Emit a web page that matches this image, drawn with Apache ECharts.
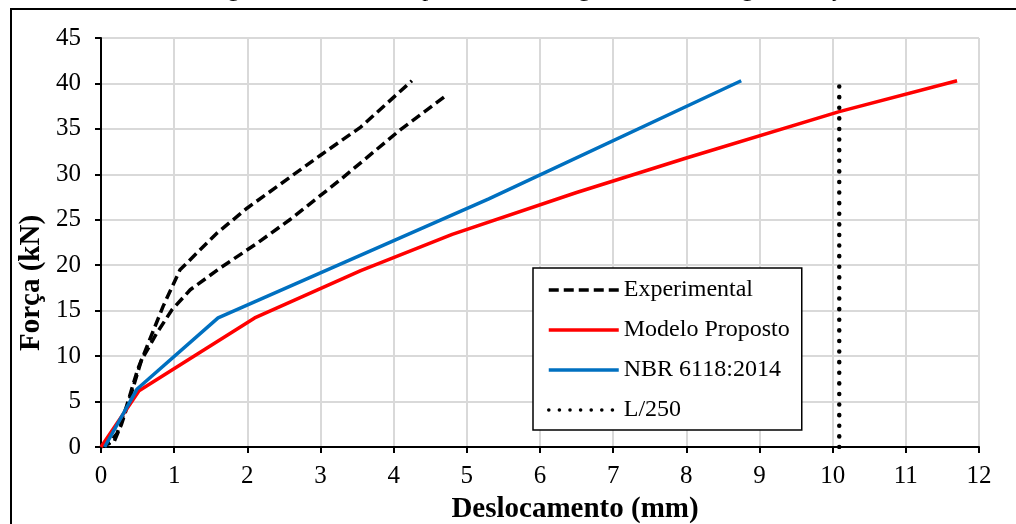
<!DOCTYPE html>
<html>
<head>
<meta charset="utf-8">
<script src="https://cdn.jsdelivr.net/npm/echarts@6/dist/echarts.min.js"></script>
<style>
  html, body { margin: 0; padding: 0; background: #fff; }
  #chart { width: 1016px; height: 524px; }
</style>
</head>
<body>
<div id="chart"></div>
<script>
// curvas força x deslocamento (mm, kN)
var experimental1 = [[0,0],[0.12,0.5],[0.22,1.5],[0.35,4.5],[0.5,8.5],[0.65,11.5],[0.85,15.5],[1.08,19.5],[1.58,23.5],[2.0,26.3],[3.0,32.1],[3.55,35.2],[4.25,40.3]];
var experimental2 = [[0,0],[0.18,0.6],[0.28,2.5],[0.4,5.5],[0.55,9.5],[0.76,12.5],[0.97,15.1],[1.22,17.3],[1.63,19.7],[2.13,22.4],[2.58,25.0],[3.27,29.4],[4.09,34.9],[4.72,38.7]];
var modeloProposto = [[0,0],[0.52,6.2],[2.1,14.2],[3.55,19.4],[4.8,23.4],[6.5,28.0],[8.0,31.8],[10.09,36.9],[11.7,40.3]];
var nbr6118 = [[0.05,0],[0.49,6.35],[1.6,14.2],[5.3,27.3],[8.75,40.3]];
var limiteL250 = [[10.09,0],[10.09,40]];

var nomes = ['Experimental', 'Modelo Proposto', 'NBR 6118:2014', 'L/250'];
var titulo = 'Viga V1, Resultado experimental da viga com a modelagem: Força x Deslocamento';

var fonte = 'Liberation Serif, Times New Roman, serif';
var chart = echarts.init(document.getElementById('chart'));

var option = {
	animation: false,
	backgroundColor: '#fff',
	grid: {
		left: 101,
		right: 37,
		top: 38,
		bottom: 77
	},
	graphic: [{
		type: 'rect',
		shape: { x: 11, y: 9, width: 1100, height: 600 },
		style: { fill: 'none', stroke: '#000', lineWidth: 2 },
		silent: true,
		z: -1
	}, {
		// título, quase todo fora da imagem
		type: 'text',
		x: 205,
		y: 2,
		style: { text: titulo, font: '24px ' + fonte, fill: '#000', align: 'left', verticalAlign: 'bottom' }
	}, {
		type: 'text',
		x: 575,
		y: 510,
		style: {
			text: 'Deslocamento (mm)',
			font: 'bold 29px ' + fonte,
			fill: '#000',
			align: 'center',
			verticalAlign: 'middle'
		}
	}, {
		type: 'text',
		x: 32,
		y: 283,
		rotation: Math.PI / 2,
		style: {
			text: 'Força (kN)',
			font: 'bold 29px ' + fonte,
			fill: '#000',
			align: 'center',
			verticalAlign: 'middle'
		}
	}],
	legend: {
		orient: 'vertical',
		left: 533,
		top: 268,
		data: nomes,
		itemWidth: 70,
		itemHeight: 14,
		itemGap: 16,
		padding: [10, 12, 8, 14],
		borderColor: '#000',
		borderWidth: 1.5,
		backgroundColor: '#fff',
		itemStyle: { opacity: 0 },
		lineStyle: { width: 3.5 },
		textStyle: {
			fontFamily: fonte,
			fontSize: 24,
			color: '#000'
		}
	},
	xAxis: {
		type: 'value',
		min: 0,
		max: 12,
		interval: 1,
		axisLine: { lineStyle: { color: '#000', width: 2 } },
		axisTick: { show: true, length: 6, lineStyle: { color: '#000', width: 2 } },
		axisLabel: { color: '#000', fontFamily: fonte, fontSize: 25, margin: 17 },
		splitLine: { show: true, lineStyle: { color: '#d9d9d9', width: 2 } }
	},
	yAxis: {
		type: 'value',
		min: 0,
		max: 45,
		interval: 5,
		axisLine: { show: true, lineStyle: { color: '#000', width: 2 } },
		axisTick: { show: true, length: 6, lineStyle: { color: '#000', width: 2 } },
		axisLabel: { color: '#000', fontFamily: fonte, fontSize: 25, margin: 20 },
		splitLine: { show: true, lineStyle: { color: '#d9d9d9', width: 2 } }
	},
	series: [{
		name: nomes[0],
		type: 'line',
		data: experimental1,
		symbol: 'none',
		lineStyle: { color: '#000', width: 3.5, type: [10, 5] },
		itemStyle: { color: '#000' }
	}, {
		name: nomes[0],
		type: 'line',
		data: experimental2,
		symbol: 'none',
		lineStyle: { color: '#000', width: 3.5, type: [10, 5] },
		itemStyle: { color: '#000' }
	}, {
		name: nomes[1],
		type: 'line',
		data: modeloProposto,
		symbol: 'none',
		lineStyle: { color: '#ff0000', width: 3.5 },
		itemStyle: { color: '#ff0000' }
	}, {
		name: nomes[2],
		type: 'line',
		data: nbr6118,
		symbol: 'none',
		lineStyle: { color: '#0070c0', width: 3.5 },
		itemStyle: { color: '#0070c0' }
	}, {
		name: nomes[3],
		type: 'line',
		data: limiteL250,
		symbol: 'none',
		lineStyle: { color: '#000', width: 4.5, type: [0.1, 10.5], cap: 'round' },
		itemStyle: { color: '#000' }
	}]
};

chart.setOption(option);
</script>
</body>
</html>
